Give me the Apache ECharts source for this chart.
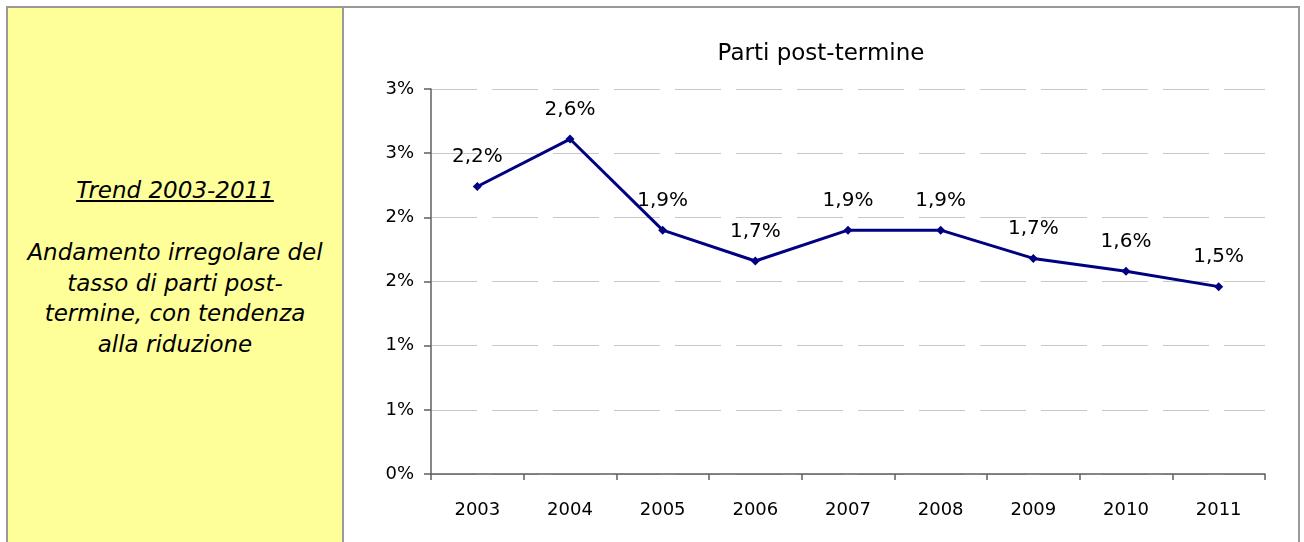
<!DOCTYPE html>
<html>
<head>
<meta charset="utf-8">
<script src="https://cdn.jsdelivr.net/npm/echarts@6/dist/echarts.min.js"></script>
<style>
  html, body { margin: 0; padding: 0; background: #ffffff; }
  #page { position: relative; width: 1304px; height: 542px; overflow: hidden; }
  #frame {
    position: absolute; left: 6px; top: 6px; width: 1290px; height: 560px;
    border-left: 2px solid #999999; border-top: 2px solid #999999; border-right: 2px solid #999999;
  }
  #side {
    position: absolute; left: 8px; top: 8px; width: 334px; height: 540px;
    background: #ffff99; border-right: 2px solid #999999;
    font-family: "DejaVu Sans", Verdana, sans-serif; font-style: italic;
    font-size: 23px; color: #000; text-align: center;
  }
  #side .head { position: absolute; left: 0; width: 334px; top: 169px; text-decoration: underline; }
  #side .body { position: absolute; left: 0; width: 334px; top: 229px; line-height: 30.5px; }
  #chart { position: absolute; left: 0; top: 0; width: 1304px; height: 542px; }
</style>
</head>
<body>
<div id="page">
  <div id="frame"></div>
  <div id="side">
    <div class="head">Trend 2003-2011</div>
    <div class="body">Andamento irregolare del<br>tasso di parti post-<br>termine, con tendenza<br>alla riduzione</div>
  </div>
  <div id="chart"></div>
</div>
<script>
// Years on the horizontal axis
const years = ['2003', '2004', '2005', '2006', '2007', '2008', '2009', '2010', '2011'];
// Post-term births, percent of all births
const postTermRate = [2.24, 2.61, 1.90, 1.66, 1.90, 1.90, 1.68, 1.58, 1.46];
// Value axis range and step (percent)
const yMin = 0;
const yMax = 3;
const yStep = 0.5;

const comic = '"Comic Sans MS", "DejaVu Sans", sans-serif';
const plain = '"DejaVu Sans", Verdana, sans-serif';

const chart = echarts.init(document.getElementById('chart'), null, { renderer: 'canvas' });
chart.setOption({
  backgroundColor: 'transparent',
  animation: false,
  title: {
    text: 'Parti post-termine',
    left: 816, top: 38, textAlign: 'center',
    textStyle: { fontFamily: comic, fontSize: 23, fontWeight: 'normal', color: '#000' }
  },
  grid: { left: 431, right: 39, top: 89, bottom: 68, containLabel: false },
  xAxis: {
    type: 'category',
    data: years,
    boundaryGap: true,
    axisLine: { lineStyle: { color: '#5f5f5f', width: 1.5 } },
    axisTick: { show: true, length: 6, lineStyle: { color: '#5f5f5f', width: 1.5 } },
    axisLabel: { margin: 27, fontFamily: plain, fontSize: 18, color: '#000' },
    splitLine: { show: false }
  },
  yAxis: {
    type: 'value',
    min: yMin, max: yMax, interval: yStep,
    axisLine: { show: true, lineStyle: { color: '#5f5f5f', width: 1.5 } },
    axisTick: { show: true, length: 7, lineStyle: { color: '#5f5f5f', width: 1.5 } },
    axisLabel: {
      margin: 17, fontFamily: plain, fontSize: 18, color: '#000',
      formatter: v => Math.round(v) + '%'
    },
    splitLine: { show: true, lineStyle: { color: '#c8c8c8', width: 1, type: [46, 15] } }
  },
  series: [{
    type: 'line',
    data: postTermRate,
    symbol: 'diamond',
    symbolSize: 9,
    lineStyle: { color: '#000080', width: 3 },
    itemStyle: { color: '#000080' },
    label: {
      show: true, position: 'top', distance: 15,
      fontFamily: comic, fontSize: 20, color: '#000',
      formatter: p => p.value.toFixed(1).replace('.', ',') + '%'
    }
  }]
});
</script>
</body>
</html>
